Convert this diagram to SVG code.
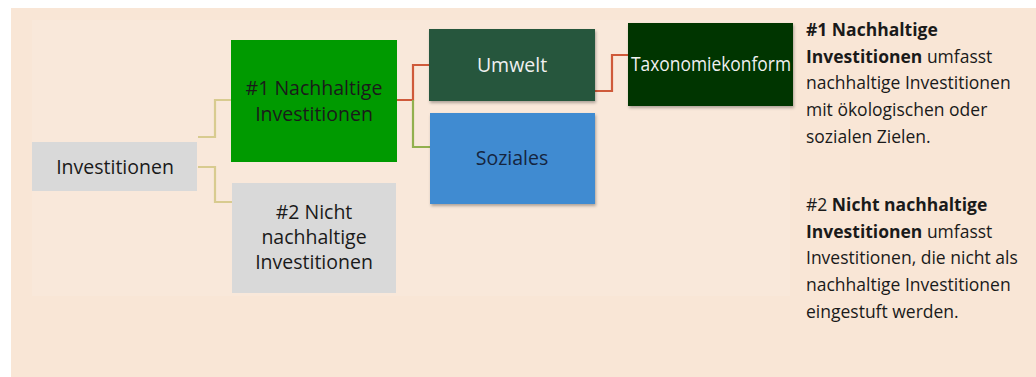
<svg xmlns="http://www.w3.org/2000/svg" width="1036" height="377" viewBox="0 0 1036 377">
<defs>
<filter id="sh" x="-10%" y="-10%" width="125%" height="130%">
<feDropShadow dx="1" dy="2" stdDeviation="1.5" flood-color="#000" flood-opacity="0.3"/>
</filter>
<style>
.bx{font-family:"Open Sans","Liberation Sans",sans-serif;font-size:19.5px;text-anchor:middle;}
.dk{fill:#1a1a1a;}
.lt{fill:#f0f0f0;}
.c{fill:none;stroke-width:2.2;}
.tan{stroke:#d8cb8f;}
.red{stroke:#cf5a3a;}
.grn{stroke:#92b04e;}
.side{font-family:"Open Sans","Noto Sans",sans-serif;font-size:17.5px;fill:#1a1a1a;}
.b{font-weight:bold;}
</style>
</defs>
<rect width="1036" height="377" fill="#ffffff"/>
<rect x="11" y="8" width="1025" height="369" fill="#f9e6d6"/>
<rect x="32" y="20" width="758" height="276" fill="#f9e8da"/>

<g id="connectors">
<polyline class="c tan" points="198,137 215,137 215,100 231,100"/>
<polyline class="c tan" points="198,167 215,167 215,202 232,202"/>
<polyline class="c red" points="397,100 413,100 413,65 429,65"/>
<polyline class="c grn" points="413,100 413,147 430,147"/>
<polyline class="c red" points="595,91 612,91 612,55 628,55"/>
</g>

<g id="investitionen">
<rect x="32" y="142" width="165" height="49" fill="#d9d9d9"/>
<text class="bx dk" x="115" y="174" font-size="20">Investitionen</text>
</g>

<g id="nachhaltig">
<rect x="231" y="40" width="166" height="122" fill="#009a00"/>
<text class="bx dk" x="314" y="95">#1 Nachhaltige</text>
<text class="bx dk" x="314" y="121">Investitionen</text>
</g>

<g id="nicht-nachhaltig">
<rect x="232" y="183" width="164" height="110" fill="#d9d9d9"/>
<text class="bx dk" x="314" y="219">#2 Nicht</text>
<text class="bx dk" x="314" y="244">nachhaltige</text>
<text class="bx dk" x="314" y="269">Investitionen</text>
</g>

<g id="umwelt">
<rect x="429" y="29" width="166" height="72" fill="#27563c" filter="url(#sh)"/>
<text class="bx lt" x="512" y="72">Umwelt</text>
</g>

<g id="soziales">
<rect x="430" y="113" width="165" height="91" fill="#3f8bd1" filter="url(#sh)"/>
<text class="bx" x="512" y="165" fill="#15253f" font-size="18">Soziales</text>
</g>

<g id="taxonomie">
<rect x="628" y="23" width="165" height="83" fill="#003500" filter="url(#sh)"/>
<text class="bx lt" x="711" y="71" textLength="160" lengthAdjust="spacingAndGlyphs">Taxonomiekonform</text>
</g>

<g id="legend">
<text class="side" x="806" y="36"><tspan class="b">#1 Nachhaltige</tspan></text>
<text class="side" x="806" y="63"><tspan class="b">Investitionen</tspan> umfasst</text>
<text class="side" x="806" y="89">nachhaltige Investitionen</text>
<text class="side" x="806" y="116">mit ökologischen oder</text>
<text class="side" x="806" y="143">sozialen Zielen.</text>
<text class="side" x="806" y="211">#2 <tspan class="b">Nicht nachhaltige</tspan></text>
<text class="side" x="806" y="238"><tspan class="b">Investitionen</tspan> umfasst</text>
<text class="side" x="806" y="264">Investitionen, die nicht als</text>
<text class="side" x="806" y="291">nachhaltige Investitionen</text>
<text class="side" x="806" y="318">eingestuft werden.</text>
</g>
</svg>
